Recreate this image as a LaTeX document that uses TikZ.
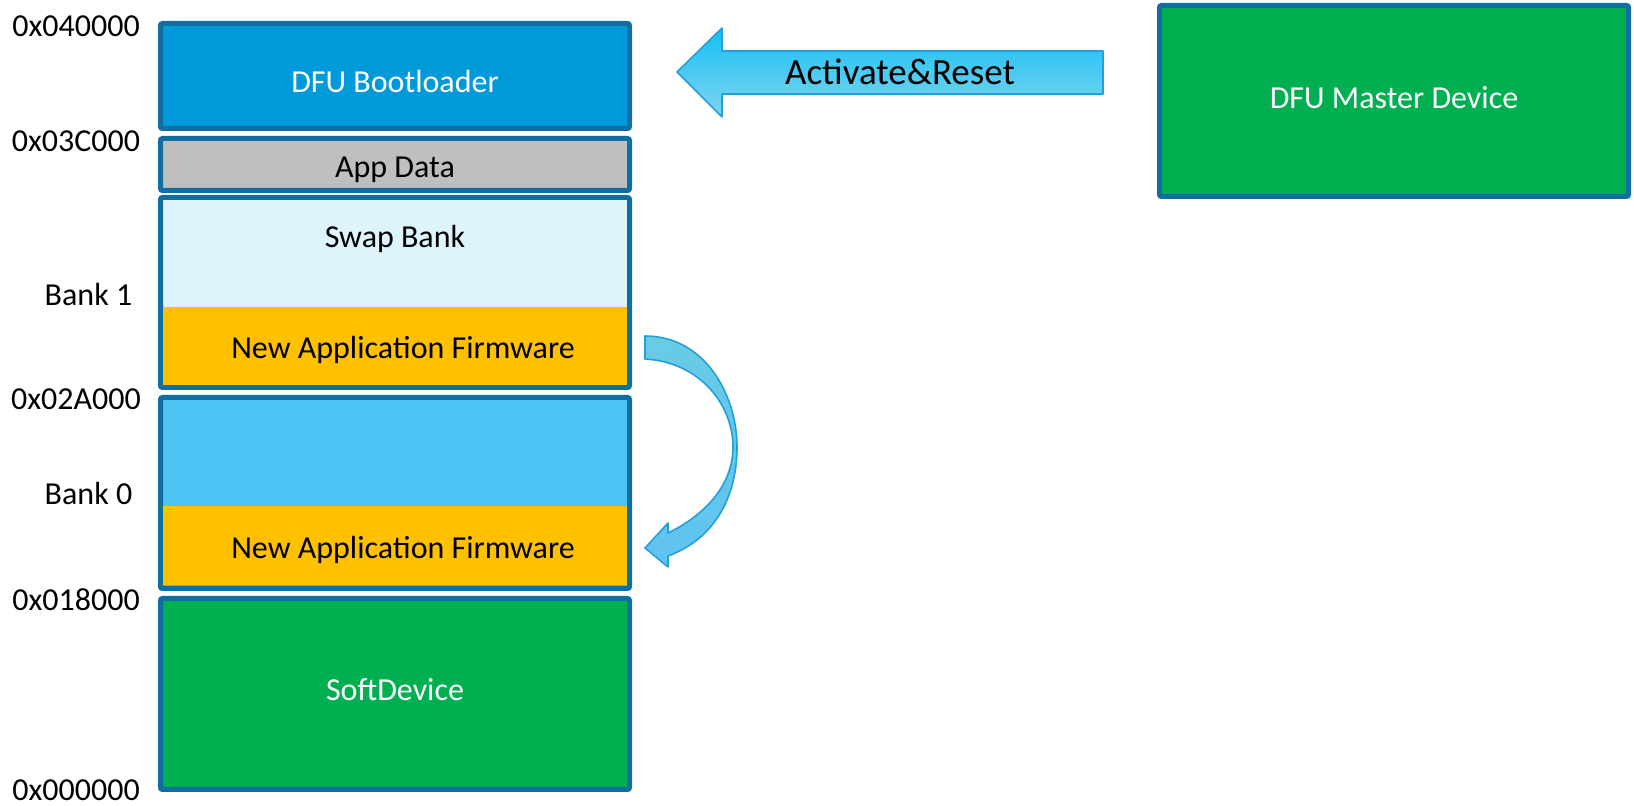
\documentclass[tikz,border=0pt]{standalone}
\usepackage{fontspec}
\setmainfont{Carlito}
\usetikzlibrary{positioning}
\definecolor{framecol}{RGB}{16,110,160}
\definecolor{bootcol}{RGB}{0,153,218}
\definecolor{datacol}{RGB}{191,191,191}
\definecolor{swapcol}{RGB}{222,243,252}
\definecolor{bankzcol}{RGB}{77,196,243}
\definecolor{fwcol}{RGB}{255,192,0}
\definecolor{sdcol}{RGB}{0,176,80}
\definecolor{arrowline}{RGB}{35,160,220}
\definecolor{arrowtop}{RGB}{20,192,245}
\definecolor{arrowbot}{RGB}{130,212,240}
\definecolor{curvetop}{RGB}{105,203,228}
\definecolor{curvebot}{RGB}{95,195,240}
\begin{document}
\begin{tikzpicture}[x=0.5pt, y=-0.5pt,
    every node/.style={font=\fontsize{16}{19}\selectfont},
    block/.style={rectangle, draw=framecol, line width=2.5pt, rounded corners=1pt, minimum width=234.5pt, inner sep=0pt},
    region/.style={rectangle, inner sep=0pt, minimum width=232pt, fill=fwcol, text height=12.8pt, text depth=0pt},
    addr/.style={text height=10.3pt, text depth=0pt},
    bigarrow/.style={draw=arrowline, line width=0.8pt, top color=arrowtop, bottom color=arrowbot, line join=round},
    bendarrow/.style={draw=arrowline, line width=0.8pt, top color=curvetop, bottom color=curvebot, line join=round}
  ]
    \useasboundingbox (0,0) rectangle (1634,806);

    % memory map
    \node[block, fill=bootcol, minimum height=52.5pt, text=white, text height=16.3pt, text depth=0pt] (boot) at (395,76) {DFU Bootloader};
    \node[block, fill=datacol, minimum height=26pt, text height=12.8pt, text depth=0pt] (appdata) at (395,164.5) {App Data};
    \node[block, fill=swapcol, minimum height=95pt] (bankone) at (395,292.5) {};
    \node[block, fill=bankzcol, minimum height=95.5pt] (bankzero) at (395,493) {};
    \node[block, fill=sdcol, minimum height=95.5pt, text=white, text height=10.3pt, text depth=4pt] (softdev) at (395,694) {SoftDevice};
    \node[region, minimum height=39pt] (fwone) at (395,346) {\hspace*{8pt}New Application Firmware};
    \node[region, minimum height=39.5pt] (fwzero) at (395,545.5) {\hspace*{8pt}New Application Firmware};
    \node[addr] (swap) at (395,237) {Swap Bank};

    % addresses and banks
    \node[addr] (aboot) at (76,26) {0x040000};
    \node[addr] (adata) at (76,141.5) {0x03C000};
    \node[addr] (lone) at (88.5,295) {Bank 1};
    \node[addr] (aone) at (76,399) {0x02A000};
    \node[addr] (lzero) at (88.5,494) {Bank 0};
    \node[addr] (azero) at (76,600) {0x018000};
    \node[addr] (asd) at (76,790) {0x000000};

    % master device
    \node[block, fill=sdcol, minimum height=95.5pt, text=white, text height=10.3pt, text depth=2.7pt] (master) at (1394,101) {DFU Master Device};

    % activate arrow
    \draw[bigarrow] (677,72) -- (722,28) -- (722,51) -- (1103,51) -- (1103,94) -- (722,94) -- (722,117) -- cycle;
    \node[font=\fontsize{18.5}{22}\selectfont, text height=11.9pt, text depth=0pt] (act) at (900,73) {Activate\&Reset};

    % copy arrow
    \draw[bendarrow] (645,336) .. controls (705,336) and (737,395) .. (737,447)
      .. controls (737,500) and (712,540) .. (668,556) -- (668,567) -- (645,548) -- (668,523) -- (668,533)
      .. controls (705,515) and (733,485) .. (733,447)
      .. controls (733,405) and (700,362) .. (645,359) -- cycle;
\end{tikzpicture}
\end{document}
